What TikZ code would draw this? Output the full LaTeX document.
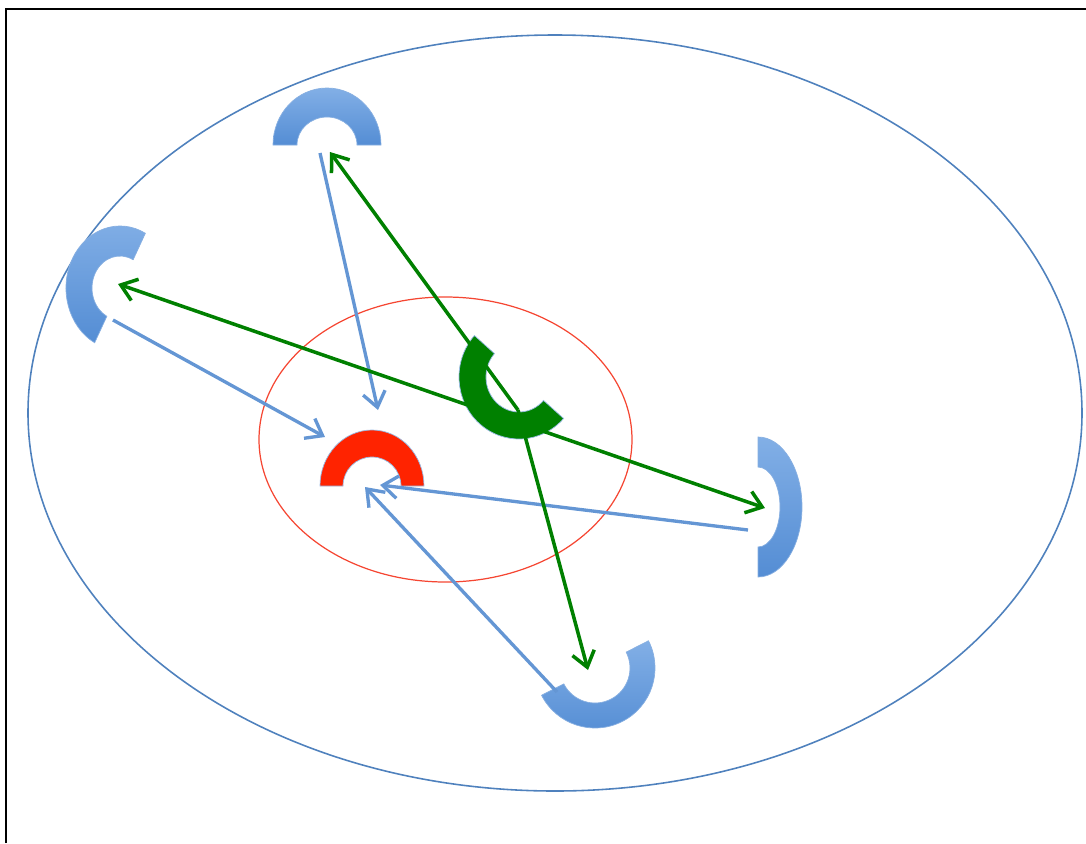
\documentclass[tikz,border=0pt]{standalone}
\usetikzlibrary{arrows.meta}
\definecolor{ring}{RGB}{84,141,212}
\definecolor{ringlt}{RGB}{130,175,230}
\definecolor{wire}{RGB}{100,150,212}
\definecolor{leaf}{RGB}{0,128,0}
\definecolor{hot}{RGB}{255,35,0}
\definecolor{hull}{RGB}{79,129,189}
\definecolor{core}{RGB}{245,70,50}
\tikzset{blueflow/.style={-{Straight Barb[length=3mm,width=4.5mm]},line width=1.9pt,wire},
  greenflow/.style={-{Straight Barb[length=3mm,width=4.5mm]},line width=2pt,leaf},
  bluering/.style={top color=ringlt,bottom color=ring,draw=ring!70,thin},
  flatring/.style={fill=#1,draw=ring!60,thin}}
\newcommand{\halfring}[7]{\path[#1] ([shift={(#3:#4 and #5)}]#2)
  arc[start angle=#3,end angle=#3+180,x radius=#4,y radius=#5]
  -- ([shift={(#3+180:#6 and #7)}]#2)
  arc[start angle=#3+180,end angle=#3,x radius=#6,y radius=#7] -- cycle;}

\begin{document}
\begin{tikzpicture}[x=0.02cm,y=0.02cm]
\useasboundingbox (0,0) rectangle (1086,-843);
\draw[line width=1.5pt] (6,-843) -- (6,-9) -- (1086,-9);
\draw[hull,line width=0.9pt] (555,-413) ellipse[x radius=527,y radius=378];
\draw[core,line width=0.7pt] (445.5,-439.5) ellipse[x radius=186.5,y radius=142.5];
% ring centres
\coordinate (top) at (327,-145);
\coordinate (left) at (120,-288);
\coordinate (right) at (758,-507);
\coordinate (bottom) at (595,-668);
\coordinate (red) at (372,-486);
\coordinate (green) at (519,-377);
% connector ends
\coordinate (topOut) at (320,-153);
\coordinate (redTop) at (378,-410);
\coordinate (leftOut) at (113,-320);
\coordinate (redLeft) at (325,-437);
\coordinate (rightOut) at (748,-530);
\coordinate (redRight) at (380,-485);
\coordinate (botOut) at (557,-692);
\coordinate (redIn) at (365,-487);
\coordinate (hub) at (518,-410);
\coordinate (topIn) at (330,-152);
\coordinate (botIn) at (588,-670);
\coordinate (leftIn) at (118,-284);
\coordinate (rightIn) at (765,-508);
\halfring{bluering}{top}{0}{54}{57}{30}{28}
\halfring{bluering}{left}{62}{54}{62}{28}{32}
\halfring{bluering}{right}{-90}{44}{70}{22}{40}
\halfring{bluering}{bottom}{207}{60}{60}{35}{35}
\halfring{flatring=hot}{red}{0}{52}{56}{29}{29}
\draw[blueflow] (topOut) -- (redTop);
\draw[blueflow] (leftOut) -- (redLeft);
\draw[blueflow] (rightOut) -- (redRight);
\draw[blueflow] (botOut) -- (redIn);
\halfring{flatring=leaf}{green}{138}{60}{62}{33}{35}
\draw[greenflow] (hub) -- (topIn);
\draw[greenflow] (hub) -- (botIn);
\draw[greenflow,{Straight Barb[length=3mm,width=4.5mm]}-{Straight Barb[length=3mm,width=4.5mm]}] (leftIn) -- (rightIn);
\end{tikzpicture}
\end{document}
